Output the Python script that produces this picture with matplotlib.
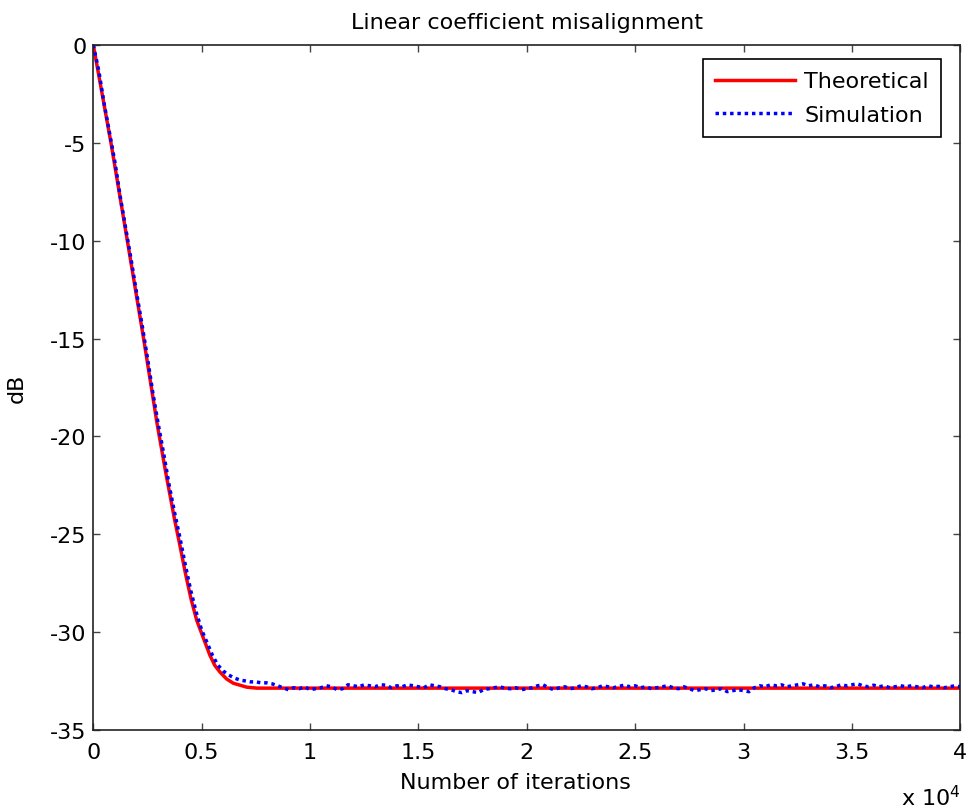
import matplotlib
matplotlib.use("Agg")
import numpy as np
import matplotlib.pyplot as plt
from matplotlib.ticker import FuncFormatter

plt.rcParams["font.family"] = ["DejaVu Sans"]
plt.rcParams["axes.unicode_minus"] = False

# ---- data -------------------------------------------------------------------
theo_iter = [0, 815, 1570, 2320, 2950, 3350, 3752, 4000, 4250, 4506, 4770,
             5075, 5384, 5600, 5845, 6150, 6460, 7077, 7540, 40000]
theo_db = [0.0, -5.0, -10.0, -15.0, -19.4, -21.9, -24.26, -25.6, -27.0, -28.3,
           -29.4, -30.3, -31.2, -31.7, -32.05, -32.4, -32.62, -32.82, -32.87, -32.87]

sim_iter_head = [0, 250, 500, 750, 1000, 1250, 1500, 1750, 2000, 2250, 2500,
                 2750, 3000, 3250, 3500, 3750, 4000, 4250, 4500, 4750, 5000,
                 5250, 5500, 5750, 6000, 6250, 6500, 6750, 7000, 7250]
sim_db_head = [0.0, -1.3, -3.0, -4.5, -6.0, -7.8, -9.4, -11.0, -12.7, -14.3, -16.0,
               -17.8, -19.4, -20.9, -22.5, -23.9, -25.2, -26.6, -27.9, -29.0, -29.9,
               -30.55, -31.2, -31.7, -32.0, -32.2, -32.35, -32.45, -32.5, -32.55]
# steady state, every 250 iterations from 7500 to 40000
sim_db_tail = [
    -32.55, -32.6, -32.6, -32.65, -32.75, -32.85, -32.95, -32.85, -32.9, -32.8,
    -32.95, -32.9, -32.85, -32.75, -32.8, -32.95, -32.9, -32.7, -32.75, -32.8,
    -32.7, -32.75, -32.8, -32.7, -32.72, -32.85, -32.75, -32.8, -32.7, -32.75,
    -32.8, -32.85, -32.7, -32.75, -32.8, -32.9, -32.95, -33.05, -33.1, -33.0,
    -33.05, -33.1, -32.95, -32.9, -32.85, -32.8, -32.88, -32.9, -32.85, -32.95,
    -32.9, -32.85, -32.75, -32.7, -32.85, -32.95, -32.85, -32.8, -32.9, -32.85,
    -32.75, -32.8, -32.9, -32.85, -32.75, -32.8, -32.85, -32.78, -32.72, -32.8,
    -32.75, -32.85, -32.8, -32.9, -32.85, -32.8, -32.75, -32.85, -32.9, -32.8,
    -32.9, -33.0, -32.95, -32.9, -33.0, -32.95, -32.9, -33.05, -33.0, -32.95,
    -33.0, -33.05, -32.85, -32.75, -32.8, -32.7, -32.75, -32.7, -32.8, -32.75,
    -32.7, -32.65, -32.75, -32.7, -32.8, -32.75, -32.85, -32.8, -32.7, -32.75,
    -32.7, -32.65, -32.75, -32.8, -32.72, -32.8, -32.75, -32.85, -32.8, -32.75,
    -32.8, -32.75, -32.8, -32.85, -32.75, -32.8, -32.78, -32.85, -32.8, -32.75, -32.8,
]
sim_iter = sim_iter_head + list(range(7500, 40001, 250))
sim_db = sim_db_head + sim_db_tail

x_ticks = [0, 5000, 10000, 15000, 20000, 25000, 30000, 35000, 40000]
y_ticks = [-35, -30, -25, -20, -15, -10, -5, 0]

# ---- figure -------------------------------------------------------------------
fig = plt.figure(figsize=(9.73, 8.12), dpi=100, facecolor="white")
ax = fig.add_axes([0.0959, 0.1, 0.891, 0.8433])

ax.plot(theo_iter, theo_db, color="#ff0000", lw=2.5, label="Theoretical")
ax.plot(sim_iter, sim_db, color="#0000ff", lw=2.5, ls=(0, (1, 1.1)),
        label="Simulation")

ax.set_xlim(0, 40000)
ax.set_ylim(-35, 0)
ax.set_xticks(x_ticks)
ax.set_yticks(y_ticks)
ax.xaxis.set_major_formatter(FuncFormatter(lambda v, p: f"{v / 1e4:g}"))
ax.tick_params(direction="in", length=5, width=1, top=True, right=True,
               labelsize=16, color="#444444")
ax.tick_params(axis="x", pad=9)
ax.tick_params(axis="y", pad=5)
for s in ax.spines.values():
    s.set_linewidth(1.2)
    s.set_color("#222222")

ax.set_title("Linear coefficient misalignment", fontsize=16, pad=12)
ax.set_ylabel("dB", fontsize=16)
ax.set_xlabel("Number of iterations", fontsize=16)
ax.xaxis.set_label_coords(0.487, -0.062)
ax.yaxis.set_label_coords(-0.077, 0.5)
fig.text(0.926, 0.0074, r"x 10$^4$", fontsize=16, va="baseline")

leg = ax.legend(loc="upper right", bbox_to_anchor=(0.978, 0.9795),
                borderaxespad=0, fontsize=16, fancybox=False, framealpha=1,
                edgecolor="black", handlelength=3.6, borderpad=0.55,
                labelspacing=0.6, handletextpad=0.4)
leg.get_frame().set_linewidth(1.2)

fig.savefig("out.png", dpi=100, facecolor="white")
